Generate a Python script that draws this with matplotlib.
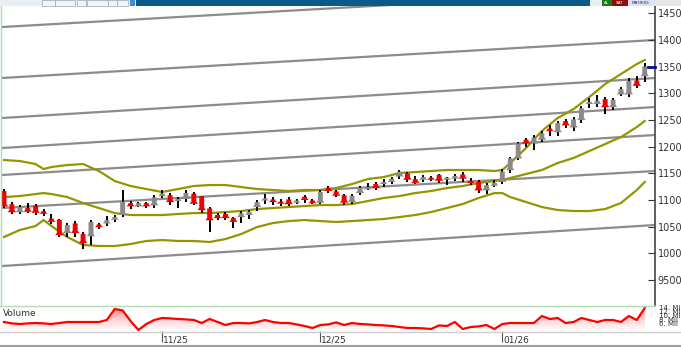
import numpy as np
import matplotlib
matplotlib.use("Agg")
import matplotlib.pyplot as plt
from matplotlib.patches import Rectangle, Polygon
from matplotlib.lines import Line2D
from matplotlib.colors import LinearSegmentedColormap
from matplotlib.transforms import blended_transform_factory

W, H = 681, 347

# daily candles
opens = [11170, 10920, 10770, 10850, 10890, 10790, 10650, 10630, 10380, 10560,
         10360, 10320, 10540, 10560, 10630, 10720, 10940, 10880, 10940, 10900,
         11070, 11090, 10980, 11020, 11120, 11070, 10840, 10720, 10740, 10660,
         10680, 10720, 10870, 10990, 11010, 10970, 11010, 10950, 11060, 10990,
         10950, 11230, 11160, 11090, 10960, 11130, 11200, 11300, 11300, 11340,
         11440, 11500, 11390, 11380, 11420, 11470, 11380, 11400, 11480, 11360,
         11340, 11180, 11270, 11340, 11560, 11780, 12130, 12060, 12130, 12340,
         12270, 12480, 12360, 12500, 12800, 12800, 12890, 12740, 12980, 12980,
         13240, 13320]
highs = [11200, 10960, 10906, 10950, 10930, 10830, 10740, 10640, 10570, 10600,
         10400, 10620, 10560, 10700, 10720, 11190, 10980, 10960, 10970, 11100,
         11190, 11130, 11050, 11180, 11150, 11080, 10870, 10750, 10770, 10680,
         10790, 10810, 11000, 11110, 11050, 11020, 11060, 11020, 11100, 11020,
         11180, 11260, 11190, 11120, 11110, 11260, 11310, 11330, 11400, 11430,
         11560, 11530, 11450, 11470, 11450, 11490, 11430, 11490, 11520, 11410,
         11370, 11310, 11380, 11580, 11810, 12090, 12170, 12220, 12290, 12410,
         12490, 12520, 12550, 12760, 12910, 12970, 12930, 12920, 13110, 13280,
         13330, 13570]
lows = [10850, 10740, 10740, 10760, 10720, 10700, 10550, 10300, 10300, 10300,
        10090, 10160, 10460, 10520, 10580, 10680, 10840, 10860, 10850, 10850,
        11030, 10900, 10850, 10970, 10900, 10750, 10400, 10620, 10620, 10480,
        10570, 10650, 10800, 10920, 10900, 10880, 10880, 10920, 10950, 10920,
        10930, 11140, 11050, 10900, 10920, 11090, 11180, 11180, 11250, 11300,
        11400, 11330, 11300, 11330, 11350, 11320, 11290, 11350, 11340, 11290,
        11130, 11120, 11240, 11300, 11500, 11750, 12000, 11940, 12080, 12200,
        12200, 12350, 12300, 12450, 12730, 12750, 12620, 12690, 12950, 12930,
        13100, 13210]
closes = [10880, 10770, 10870, 10780, 10760, 10740, 10590, 10340, 10530, 10380,
          10190, 10590, 10490, 10620, 10680, 10970, 10880, 10940, 10880, 11050,
          11120, 10960, 11010, 11130, 10930, 10810, 10620, 10660, 10660, 10590,
          10750, 10780, 10960, 11020, 10960, 10930, 10920, 10990, 11000, 10940,
          11150, 11170, 11080, 10950, 11080, 11230, 11240, 11220, 11340, 11400,
          11530, 11380, 11320, 11430, 11380, 11360, 11400, 11450, 11400, 11320,
          11180, 11280, 11320, 11530, 11780, 12060, 12060, 12170, 12250, 12290,
          12440, 12400, 12510, 12720, 12830, 12860, 12740, 12880, 13080, 13230,
          13140, 13500]
volume_m = [6.5, 5.8, 5.5, 5.8, 6.0, 5.8, 5.5, 6.0, 6.5, 6.5,
            6.5, 6.5, 6.5, 7.5, 13.0, 12.3, 7.0, 2.5, 5.5, 7.5,
            8.5, 8.3, 8.0, 7.8, 7.5, 6.0, 8.0, 6.5, 5.0, 6.0,
            6.0, 5.8, 6.5, 7.5, 6.5, 6.0, 6.0, 5.3, 4.5, 3.5,
            5.0, 5.3, 6.3, 5.0, 6.0, 5.5, 5.3, 5.0, 4.8, 4.5,
            4.0, 3.5, 3.5, 3.3, 3.0, 4.8, 4.5, 6.5, 3.0, 4.0,
            4.3, 5.0, 3.0, 5.5, 6.0, 6.0, 6.0, 6.0, 9.5, 8.0,
            8.5, 6.0, 6.5, 8.5, 7.5, 6.5, 7.5, 7.5, 6.5, 9.5,
            7.5, 13.5]

# bollinger bands (read at these candle numbers)
band_idx = [0, 2, 4, 5, 6, 8, 10, 12, 14, 16, 18, 20, 22, 24, 26, 28, 30, 32, 34, 36,
            38, 40, 42, 44, 46, 48, 50, 52, 54, 56, 58, 60, 62, 63, 64, 66, 68, 70, 72, 74,
            76, 78, 80, 81]
bb_upper = [11749, 11730, 11674, 11580, 11618, 11655, 11674, 11543, 11355, 11262,
            11205, 11149, 11205, 11262, 11280, 11280, 11243, 11205, 11187, 11168,
            11187, 11187, 11224, 11299, 11393, 11430, 11505, 11524, 11543, 11562,
            11562, 11562, 11543, 11562, 11693, 11974, 12293, 12537, 12705, 12930,
            13174, 13361, 13549, 13624]
bb_mid = [11055, 11074, 11111, 11130, 11111, 11055, 10943, 10849, 10755, 10718,
          10718, 10718, 10737, 10755, 10755, 10774, 10793, 10830, 10849, 10868,
          10887, 10905, 10905, 10924, 10980, 11037, 11074, 11130, 11168, 11224,
          11262, 11318, 11355, 11374, 11412, 11487, 11562, 11693, 11787, 11918,
          12049, 12180, 12368, 12480]
bb_lower = [10306, 10437, 10512, 10624, 10512, 10306, 10156, 10137, 10137, 10174,
            10231, 10249, 10231, 10231, 10212, 10268, 10362, 10493, 10568, 10605,
            10624, 10605, 10587, 10605, 10624, 10643, 10680, 10718, 10774, 10849,
            10924, 11037, 11130, 11130, 11055, 10962, 10868, 10812, 10793, 10793,
            10830, 10943, 11187, 11337]

# channel lines: price at left and right edge
chan_left = [14243, 13287, 12537, 11974, 11468, 10849, 9762]
chan_right = [14937, 14000, 13287, 12743, 12218, 11543, 10531]

price_ticks = [9500, 10000, 10500, 11000, 11500, 12000, 12500, 13000, 13500, 14000, 14500]
vol_ticks = [6, 8, 10, 12, 14]
vol_labels = ["6. Mil", "8. Mil", "10. Mil", "12. Mil", "14. Mil"]
date_idx = [20, 40, 63]
date_labels = ["11/25", "12/25", "01/26"]

XL, XR = -0.25, 82.3


def fx(x):
    return x / W


def fy(y):
    return 1 - y / H


fig = plt.figure(figsize=(W / 100, H / 100), dpi=100)

# ---- price panel
ax = fig.add_axes([fx(2), fy(305), fx(655) - fx(2), fy(6) - fy(305)])
ax.set_xlim(XL, XR)
ax.set_ylim(9031, 14637)

for l, r in zip(chan_left, chan_right):
    ax.plot([XL, XR], [l, r], color="#8c8c8c", lw=1.6, zorder=1)

for band in (bb_upper, bb_mid, bb_lower):
    ax.plot(band_idx, band, color="#959500", lw=1.6, zorder=2)

w = 0.62
for i, (o, h, lo, c) in enumerate(zip(opens, highs, lows, closes)):
    up = c >= o
    col = "#8a8a8a" if up else "#f20000"
    top, bot = max(o, c), min(o, c)
    if top - bot < 40:
        top = bot + 40
    f = min(45, (top - bot) * 0.5)
    ax.plot([i, i], [lo, h], color="black", lw=1.4, zorder=3, solid_capstyle="butt")
    verts = [(i - w / 2, top), (i + w / 2, top), (i + w / 2, bot + f),
             (i + w * 0.85, bot), (i - w * 0.85, bot), (i - w / 2, bot + f)]
    ax.add_patch(Polygon(verts, closed=True, facecolor=col, edgecolor="none", zorder=4))

# last price marker
ax.plot([len(closes) - 0.6, XR], [closes[-1], closes[-1]], color="#0a0a8a", lw=2,
        clip_on=False, zorder=5)

ax.yaxis.tick_right()
ax.set_yticks(price_ticks)
ax.set_yticklabels([str(p) for p in price_ticks])
ax.tick_params(axis="y", direction="in", length=5, pad=2, labelsize=7,
               colors="#333333", width=0.8)
ax.set_xticks([])
for s in ("top", "left", "bottom"):
    ax.spines[s].set_visible(False)
ax.spines["right"].set_color("#444444")
ax.spines["right"].set_linewidth(1.2)

# ---- volume panel
vax = fig.add_axes([fx(2), fy(331), fx(655) - fx(2), fy(306) - fy(331)])
vax.set_xlim(XL, XR)
vax.set_ylim(2, 14.5)
idx = np.arange(len(volume_m))
grad = np.linspace(0, 1, 100).reshape(-1, 1)
cmap = LinearSegmentedColormap.from_list("vg", ["#ffffff", "#ffd0d0", "#ff7070"])
im = vax.imshow(grad, extent=[XL, XR, 2, 14.5], origin="lower", aspect="auto",
                cmap=cmap, zorder=1)
verts = [(idx[0], 2)] + list(zip(idx, volume_m)) + [(idx[-1], 2)]
clip = Polygon(verts, closed=True, facecolor="none", edgecolor="none",
               transform=vax.transData)
vax.add_patch(clip)
im.set_clip_path(clip)
vax.plot(idx, volume_m, color="#ff0000", lw=1.6, zorder=3)
vax.text(0.002, 0.72, "Volume", transform=vax.transAxes, fontsize=6.5,
         color="#333333", va="center")

vax.yaxis.tick_right()
vax.set_yticks(vol_ticks)
vax.set_yticklabels(vol_labels)
vax.tick_params(axis="y", length=0, pad=3, labelsize=5, colors="#333333")
vax.set_xticks(date_idx)
vax.set_xticklabels([""] * len(date_idx))
vax.tick_params(axis="x", direction="out", length=8, width=0.8, colors="#555555")
for s in vax.spines.values():
    s.set_visible(False)
tr = blended_transform_factory(vax.transData, vax.transAxes)
for i, lab in zip(date_idx, date_labels):
    vax.text(i + 0.12, -0.36, lab, transform=tr, fontsize=6.5, color="#333333",
             ha="left", va="center", clip_on=False)

# ---- borders
fig.add_artist(Line2D([fx(0), fx(655)], [fy(305.5)] * 2, color="#b0dcb0", lw=1))
fig.add_artist(Line2D([fx(1)] * 2, [fy(6), fy(305)], color="#b0dcb0", lw=1))
fig.add_artist(Line2D([0, 1], [fy(331.5)] * 2, color="#cccccc", lw=1))
fig.add_artist(Line2D([0, 1], [fy(345.5)] * 2, color="#a0a0a0", lw=1.5))

# ---- toolbar
def bar(x0, x1, y0, y1, fc, ec="none"):
    fig.add_artist(Rectangle((fx(x0), fy(y1)), (x1 - x0) / W, (y1 - y0) / H,
                             transform=fig.transFigure, facecolor=fc,
                             edgecolor=ec, lw=0.5))

bar(0, 136, 0, 6, "#e9eef2")
for a, b in [(42, 55), (55, 75), (77, 86), (87, 108), (108, 117), (117, 128)]:
    bar(a, b, 0.5, 5.5, "#f4f4f4", "#9aa8b4")
bar(130, 135, 0.5, 5.5, "#3a8fd0")
bar(136, 590, 0, 6, "#0b5a88")
bar(590, 602, 0, 6, "#e9eef2")
bar(602, 612, 0, 6, "#1d7a1d")
bar(612, 628, 0, 6, "#8a1010")
bar(628, 655, 0, 6, "#dfe2ee")
bar(655, 681, 0, 6, "#e4e6ea")
fig.text(fx(607), fy(3), "AL", fontsize=3, color="white", ha="center", va="center")
fig.text(fx(620), fy(3), "SAT", fontsize=3, color="white", ha="center", va="center")
fig.text(fx(641), fy(3), "MATRIKS", fontsize=3, color="#1a2a7a", ha="center", va="center")

fig.savefig("out.png", dpi=100)
